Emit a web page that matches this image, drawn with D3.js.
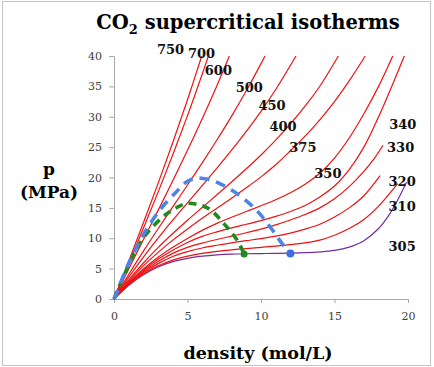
<!DOCTYPE html>
<html>
<head>
<meta charset="utf-8">
<script src="https://cdn.jsdelivr.net/npm/d3@7"></script>
<style>
  body { margin: 0; background: #fff; }
  svg { display: block; }
</style>
</head>
<body>
<div id="chart"></div>
<script>
// isotherm data, [density (mol/L), pressure (MPa)]
const iso305 = [[0,0],[1,2.25],[2,3.98],[3,5.27],[4,6.15],[5,6.7],[6,7.05],[7,7.27],[8,7.39],[9,7.45],[10,7.48],[11,7.51],[12,7.55],[13,7.62],[14,7.75],[15,8.0],[16,8.55],[17,9.6],[18,11.6],[18.7,13.8],[19.3,16.3],[19.9,19.2]];
const iso310 = [[0,0],[1,2.3],[2,4.1],[3,5.46],[4,6.4],[5,7.05],[6,7.5],[7,7.85],[8,8.1],[9,8.3],[10,8.5],[11,8.7],[12,8.95],[13,9.25],[14,9.7],[15,10.5],[16,11.6],[17,13.1],[18,15.3],[19.3,19.0]];
const iso320 = [[0,0],[1,2.4],[2,4.31],[3,5.82],[4,7.0],[5,7.8],[6,8.4],[7,8.85],[8,9.25],[9,9.6],[10,9.95],[11,10.35],[12,10.85],[13,11.5],[14,12.3],[15,13.5],[16,15.0],[17,17.0],[18.1,20.3]];
const iso330 = [[0,0],[1,2.49],[2,4.52],[3,6.17],[4,7.51],[5,8.5],[6,9.2],[7,9.8],[8,10.35],[9,10.9],[10,11.5],[11,12.2],[12,13.0],[13,13.9],[14,15.0],[15,16.5],[16,18.5],[17,21.0],[17.7,23.1],[18.3,25.3]];
const iso340 = [[0,0],[1,2.59],[2,4.74],[3,6.53],[4,8.03],[5,9.3],[6,10.3],[7,11.05],[8,11.7],[9,12.3],[10,12.9],[11,13.6],[12,14.4],[13,15.4],[14,16.8],[15,18.6],[16,21.3],[17,25.0],[18,30.0],[19,35.6],[19.75,40]];
const iso350 = [[0,0],[1,2.68],[2,4.94],[3,6.86],[4,8.51],[5,9.97],[6,11.3],[7,12.45],[8,13.45],[9,14.4],[10,15.35],[11,16.35],[12,17.5],[13,18.9],[14,20.7],[15,23.2],[16,26.5],[17,30.5],[18,35.0],[18.96,40]];
const iso375 = [[0,0],[1,2.91],[2,5.45],[3,7.68],[4,9.69],[5,11.54],[6,13.3],[7,14.95],[8,16.6],[9,18.3],[10,20.1],[11,22.1],[12,24.4],[13,26.8],[14,29.5],[15,32.5],[16,35.9],[17.09,40]];
const iso400 = [[0,0],[1,3.13],[2,5.93],[3,8.46],[4,10.78],[5,12.97],[6,15.07],[7,17.16],[8,19.26],[9,21.43],[10,23.71],[11,26.16],[12,28.82],[13,31.74],[14,35.02],[15.26,40]];
const iso450 = [[0,0],[1,3.59],[2,6.9],[3,10.01],[4,12.97],[5,15.83],[6,18.67],[7,21.53],[8,24.49],[9,27.59],[10,30.9],[11,34.48],[12.38,40]];
const iso500 = [[0,0],[1,4.03],[2,7.87],[3,11.56],[4,15.17],[5,18.77],[6,22.41],[7,26.18],[8,30.11],[9,34.27],[10,38.74],[10.27,40]];
const iso600 = [[0,0],[1,4.93],[2,9.77],[3,14.59],[4,19.48],[5,24.48],[6,29.67],[7,35.12],[7.85,40]];
const iso700 = [[0,0],[1,5.81],[2,11.64],[3,17.59],[4,23.74],[5,30.19],[6,37.0],[6.42,40]];
const iso750 = [[0,0],[1,6.24],[2,12.56],[3,19.03],[4,25.75],[5,32.79],[5.97,40]];

const temps = [305, 310, 320, 330, 340, 350, 375, 400, 450, 500, 600, 700, 750];
const isotherms = [iso305, iso310, iso320, iso330, iso340, iso350, iso375, iso400, iso450, iso500, iso600, iso700, iso750];
// where each temperature label sits, in data units
const labelSpots = [[19.6,8.7],[19.6,15.2],[19.6,19.3],[19.5,25.0],[19.65,28.8],[14.55,20.7],[12.85,25.0],[11.5,28.5],[10.75,31.8],[9.2,34.9],[7.1,37.7],[5.95,40.5],[3.85,41.15]];

// dashed loci
const blueLocus = [[0,0],[0.2,1],[0.75,4.5],[1.45,8.1],[2.1,11.0],[3.1,14.6],[4.15,17.4],[4.9,19.2],[5.6,19.9],[6.4,19.7],[7.2,19.0],[8.4,17.3],[9.7,14.6],[10.7,11.6],[11.5,8.9],[12.0,7.5]];
const greenLocus = [[0,0],[0.3,1.8],[0.86,4.8],[1.54,8.3],[2.33,11.1],[3.47,13.8],[4.3,15.1],[5.0,15.75],[5.8,15.5],[6.5,14.8],[7.55,12.2],[8.4,9.6],[8.85,7.4]];

const xTicks = [0, 5, 10, 15, 20];
const yTicks = [0, 5, 10, 15, 20, 25, 30, 35, 40];

const W = 434, H = 367;
const margin = { top: 56, right: 26, bottom: 68, left: 114 };
const width = W - margin.left - margin.right;
const height = H - margin.top - margin.bottom;

const svg = d3.select("#chart").append("svg")
  .attr("width", W)
  .attr("height", H);

// outer frame
svg.append("rect")
  .attr("x", 2.5).attr("y", 1.5)
  .attr("width", 428).attr("height", 364)
  .attr("fill", "none")
  .attr("stroke", "#c4c4c4")
  .attr("stroke-width", 1);

const g = svg.append("g")
  .attr("transform", `translate(${margin.left},${margin.top})`);

const x = d3.scaleLinear().domain([0, 20]).range([0, width]);
const y = d3.scaleLinear().domain([0, 40]).range([height, 0]);

// axes
const xAxis = g.append("g")
  .attr("transform", `translate(0,${height})`)
  .call(d3.axisBottom(x).tickValues(xTicks).tickSize(4).tickPadding(9).tickSizeOuter(0));
const yAxis = g.append("g")
  .call(d3.axisLeft(y).tickValues(yTicks).tickSize(5).tickPadding(7).tickSizeOuter(0));

[xAxis, yAxis].forEach(a => {
  a.select(".domain").attr("stroke", "#a8a8a8");
  a.selectAll(".tick line").attr("stroke", "#a8a8a8");
  a.selectAll("text")
    .style("font-family", "'DejaVu Serif', serif")
    .style("font-size", "11px")
    .attr("fill", "#404040");
});

const line = d3.line()
  .x(d => x(d[0]))
  .y(d => y(d[1]))
  .curve(d3.curveCatmullRom.alpha(0.5));

// isotherms
g.selectAll("path.iso")
  .data(isotherms)
  .enter()
  .append("path")
  .attr("class", "iso")
  .attr("d", line)
  .attr("fill", "none")
  .attr("stroke", (d, i) => temps[i] === 305 ? "#7030a0" : "#ee1111")
  .attr("stroke-width", 1.2);

// dashed loci
g.append("path")
  .attr("d", line(greenLocus))
  .attr("fill", "none")
  .attr("stroke", "#1f8a1f")
  .attr("stroke-width", 3.6)
  .attr("stroke-dasharray", "8 6");

g.append("path")
  .attr("d", line(blueLocus))
  .attr("fill", "none")
  .attr("stroke", "#4f83e6")
  .attr("stroke-width", 3.6)
  .attr("stroke-dasharray", "10 7");

g.append("circle")
  .attr("cx", x(greenLocus[greenLocus.length - 1][0]))
  .attr("cy", y(greenLocus[greenLocus.length - 1][1]))
  .attr("r", 3.5)
  .attr("fill", "#1f8a1f");

g.append("circle")
  .attr("cx", x(blueLocus[blueLocus.length - 1][0]))
  .attr("cy", y(blueLocus[blueLocus.length - 1][1]))
  .attr("r", 4)
  .attr("fill", "#3d6fe0");

// temperature labels
g.selectAll("text.tlabel")
  .data(temps)
  .enter()
  .append("text")
  .attr("class", "tlabel")
  .attr("x", (d, i) => x(labelSpots[i][0]))
  .attr("y", (d, i) => y(labelSpots[i][1]))
  .attr("dy", "0.36em")
  .attr("text-anchor", "middle")
  .style("font-family", "'DejaVu Serif', serif")
  .style("font-weight", "bold")
  .style("font-size", "13px")
  .attr("fill", "#111")
  .text(d => d);

// title
const title = svg.append("text")
  .attr("x", 248)
  .attr("y", 29)
  .attr("text-anchor", "middle")
  .style("font-family", "'DejaVu Serif', serif")
  .style("font-weight", "bold")
  .style("font-size", "19.5px")
  .attr("fill", "#000");
title.append("tspan").text("CO");
title.append("tspan").attr("dy", 5).style("font-size", "13px").text("2");
title.append("tspan").attr("dy", -5).text(" supercritical isotherms");

// axis titles
svg.append("text")
  .attr("x", 258)
  .attr("y", 359)
  .attr("text-anchor", "middle")
  .style("font-family", "'DejaVu Serif', serif")
  .style("font-weight", "bold")
  .style("font-size", "17.5px")
  .attr("fill", "#000")
  .text("density (mol/L)");

svg.append("text")
  .attr("x", 49)
  .attr("y", 175)
  .attr("text-anchor", "middle")
  .style("font-family", "'DejaVu Serif', serif")
  .style("font-weight", "bold")
  .style("font-size", "17px")
  .attr("fill", "#000")
  .text("p");

svg.append("text")
  .attr("x", 49)
  .attr("y", 198)
  .attr("text-anchor", "middle")
  .style("font-family", "'DejaVu Serif', serif")
  .style("font-weight", "bold")
  .style("font-size", "17px")
  .attr("fill", "#000")
  .text("(MPa)");
</script>
</body>
</html>
